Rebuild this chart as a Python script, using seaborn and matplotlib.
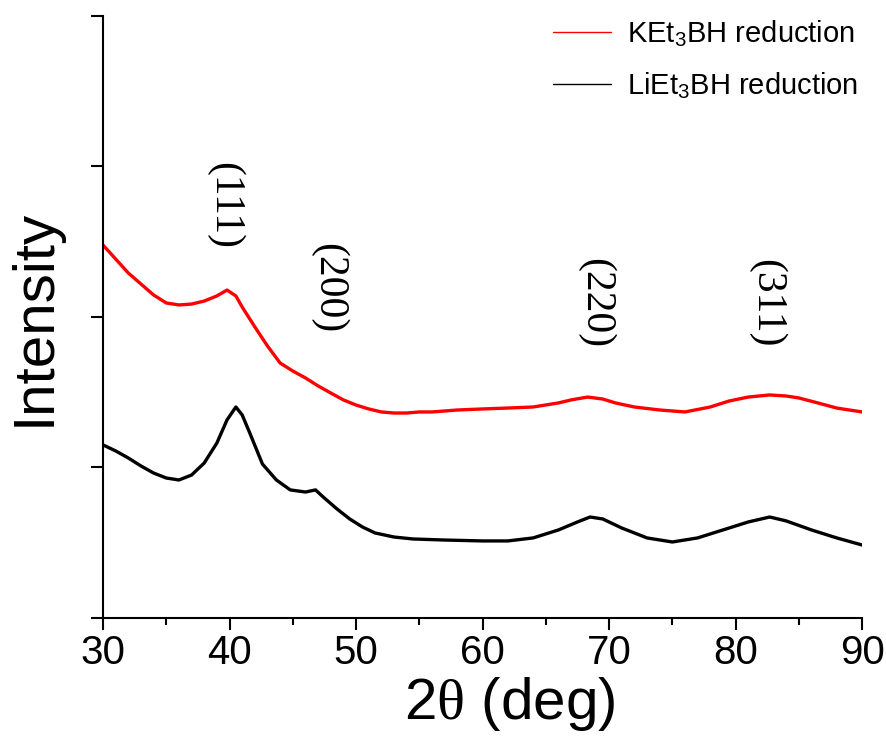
import matplotlib
matplotlib.use("Agg")
import matplotlib.pyplot as plt
from matplotlib.lines import Line2D
from matplotlib.ticker import MultipleLocator, NullFormatter
import pandas as pd
import seaborn as sns

# XRD pattern of the KEt3BH-reduced sample (offset upward)
two_theta_k = [30.0, 31.0, 32.0, 33.0, 34.0, 35.0, 36.0, 37.0, 38.0, 39.0,
               39.8, 40.5, 41.0, 42.0, 43.0, 44.0, 45.0, 46.0, 47.0, 48.0,
               49.0, 50.0, 51.0, 52.0, 53.0, 54.0, 55.0, 56.0, 58.0, 60.0,
               62.0, 64.0, 66.0, 67.0, 68.3, 69.5, 70.5, 72.0, 74.0, 76.0,
               78.0, 79.5, 81.0, 82.7, 84.0, 85.0, 86.5, 88.0, 90.0]
intensity_k = [2.478, 2.385, 2.292, 2.219, 2.146, 2.093, 2.080, 2.086, 2.106, 2.140,
               2.179, 2.140, 2.066, 1.934, 1.807, 1.694, 1.641, 1.595, 1.542, 1.495,
               1.449, 1.415, 1.389, 1.369, 1.362, 1.362, 1.369, 1.369, 1.382, 1.389,
               1.395, 1.402, 1.429, 1.449, 1.468, 1.455, 1.429, 1.402, 1.382, 1.369,
               1.402, 1.442, 1.468, 1.482, 1.475, 1.462, 1.429, 1.395, 1.369]

# XRD pattern of the LiEt3BH-reduced sample
two_theta_li = [30.0, 31.0, 32.0, 33.0, 34.0, 35.0, 36.0, 37.0, 38.0, 39.0,
                39.8, 40.5, 41.0, 41.6, 42.6, 43.7, 44.8, 46.0, 46.8, 47.4,
                48.5, 49.5, 50.5, 51.5, 53.0, 54.5, 57.0, 60.0, 62.0, 64.0,
                66.0, 67.5, 68.5, 69.5, 71.0, 73.0, 75.0, 77.0, 79.0, 81.0,
                82.7, 84.0, 86.0, 88.0, 90.0]
intensity_li = [1.150, 1.110, 1.063, 1.010, 0.963, 0.930, 0.917, 0.950, 1.030, 1.163,
                1.316, 1.402, 1.349, 1.229, 1.023, 0.917, 0.851, 0.837, 0.851, 0.804,
                0.724, 0.658, 0.605, 0.565, 0.538, 0.525, 0.518, 0.512, 0.512, 0.532,
                0.585, 0.638, 0.671, 0.658, 0.598, 0.532, 0.505, 0.532, 0.585, 0.638,
                0.671, 0.645, 0.585, 0.532, 0.485]

series_labels = ["KEt$_3$BH reduction", "LiEt$_3$BH reduction"]
series_colors = ["#ff0000", "#000000"]

# Miller indices of the reflections and where their labels sit
peak_labels = ["(111)", "(200)", "(220)", "(311)"]
peak_x = [39.6, 47.8, 68.9, 82.4]
peak_y = [2.74, 2.19, 2.09, 2.09]

x_ticks = [30, 40, 50, 60, 70, 80, 90]

df = pd.concat([
    pd.DataFrame({"two_theta": two_theta_k, "intensity": intensity_k,
                  "sample": series_labels[0]}),
    pd.DataFrame({"two_theta": two_theta_li, "intensity": intensity_li,
                  "sample": series_labels[1]}),
], ignore_index=True)

sns.set_style("ticks")
plt.rcParams["font.family"] = ["Liberation Sans", "DejaVu Sans"]
plt.rcParams["text.color"] = "black"
plt.rcParams["axes.labelcolor"] = "black"
plt.rcParams["xtick.color"] = "black"
plt.rcParams["ytick.color"] = "black"
plt.rcParams["mathtext.fontset"] = "custom"
plt.rcParams["mathtext.rm"] = "Liberation Sans"
plt.rcParams["mathtext.it"] = "Liberation Sans:italic"
plt.rcParams["mathtext.sf"] = "Liberation Serif"

fig = plt.figure(figsize=(8.86, 7.47), dpi=100)
ax = fig.add_axes([0.1163, 0.1727, 0.8567, 0.8059])

sns.lineplot(data=df, x="two_theta", y="intensity", hue="sample",
             palette=dict(zip(series_labels, series_colors)),
             estimator=None, sort=False, linewidth=2.4, legend=False, ax=ax)

ax.set_xlim(30, 90)
ax.set_ylim(0, 4)
ax.set_xticks(x_ticks)
ax.set_xticklabels([str(t) for t in x_ticks])
ax.xaxis.set_minor_locator(MultipleLocator(5))
ax.yaxis.set_major_locator(MultipleLocator(1))
ax.yaxis.set_major_formatter(NullFormatter())

for side in ("top", "right"):
    ax.spines[side].set_visible(False)
for side in ("left", "bottom"):
    ax.spines[side].set_linewidth(1.5)
    ax.spines[side].set_color("black")

ax.tick_params(axis="x", which="major", direction="out", length=8.6, width=1.5,
               labelsize=29, pad=3)
ax.tick_params(axis="x", which="minor", direction="out", length=5, width=1.5)
ax.tick_params(axis="y", which="major", direction="out", length=8.6, width=1.5)

ax.set_xlabel(r"2$\mathsf{\theta}$ (deg)", fontsize=42, color="black")
ax.xaxis.set_label_coords((510 - 103) / 759, -0.095)
ax.set_ylabel("Intensity", fontsize=42, labelpad=18, color="black")

for lab, px, py in zip(peak_labels, peak_x, peak_y):
    ax.text(px, py, lab, rotation=270, ha="center", va="center",
            fontsize=30, family="Liberation Serif", color="black")

handles = [Line2D([], [], color=c, lw=1.0) for c in series_colors]
leg = ax.legend(handles, series_labels, loc="upper right",
                bbox_to_anchor=(0.995, 0.997), frameon=False, fontsize=21,
                handlelength=2.0, handletextpad=0.55, labelspacing=0.75,
                borderaxespad=0.0, borderpad=0.0)
for t in leg.get_texts():
    t.set_color("black")

fig.savefig("out.png", dpi=100)
